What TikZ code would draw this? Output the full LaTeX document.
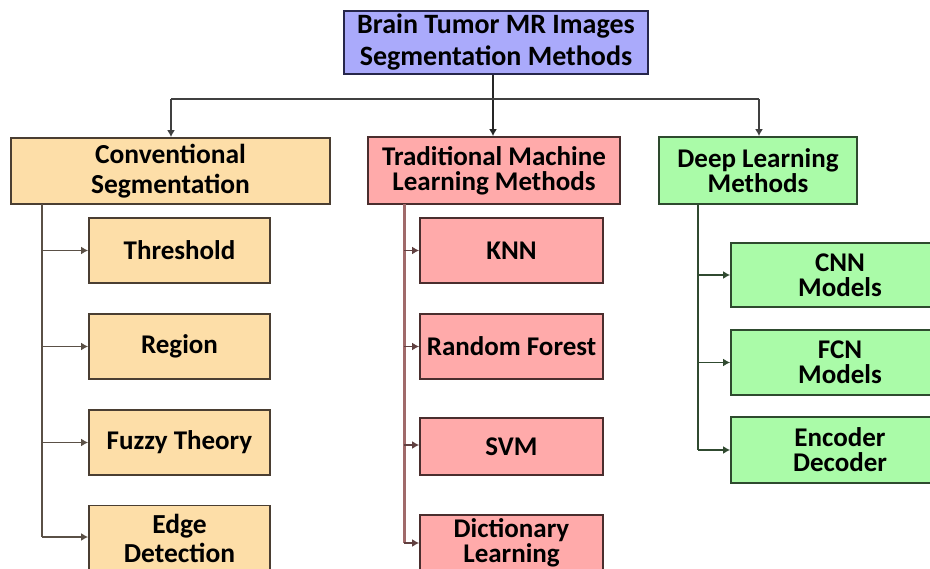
\documentclass[tikz,border=0pt]{standalone}
\usepackage{fontspec}
\setmainfont{Carlito}
\usetikzlibrary{arrows.meta}

\definecolor{rootfill}{HTML}{AAAAFB}
\definecolor{rootline}{HTML}{26264A}
\definecolor{convfill}{HTML}{FDDEA8}
\definecolor{convline}{HTML}{4A3E32}
\definecolor{tmlfill}{HTML}{FFAAAA}
\definecolor{tmlline}{HTML}{4A2E2E}
\definecolor{dlfill}{HTML}{AAFBA8}
\definecolor{dlline}{HTML}{2E4A2E}
\definecolor{convwire}{HTML}{5A5046}
\definecolor{tmlwire}{HTML}{A06A6A}
\definecolor{dlwire}{HTML}{304A30}

\tikzset{
  box/.style={draw, line width=1.8pt, rectangle, align=center, inner sep=0pt,
    font=\bfseries\fontsize{27}{25}\selectfont},
  rootbox/.style={box, fill=rootfill, draw=rootline},
  convbox/.style={box, fill=convfill, draw=convline},
  tmlbox/.style={box, fill=tmlfill, draw=tmlline},
  dlbox/.style={box, fill=dlfill, draw=dlline},
  wire/.style={line width=1.4pt, draw=#1},
  tip/.style={-{Latex[length=7pt,width=8pt]}},
}

\begin{document}
\begin{tikzpicture}[x=1pt,y=-1pt]
\useasboundingbox (0,0) rectangle (930,569);
\begin{scope}
\clip (0,0) rectangle (930,569);

% root and the three families
\node[rootbox, minimum width=304pt, minimum height=63pt,
  font=\bfseries\fontsize{28}{32}\selectfont] (root) at (496,42.5)
  {Brain Tumor MR Images\\Segmentation Methods};
\node[convbox, minimum width=319pt, minimum height=66pt,
  font=\bfseries\fontsize{27.5}{30}\selectfont] (conv) at (170.5,171)
  {Conventional\\Segmentation};
\node[tmlbox, minimum width=252pt, minimum height=67pt] (tml) at (494,170.5)
  {Traditional Machine\\Learning Methods};
\node[dlbox, minimum width=198pt, minimum height=67pt] (dl) at (758,170.5)
  {Deep Learning\\Methods};

% conventional segmentation
\node[convbox, minimum width=181pt, minimum height=65pt] (thr) at (179.5,250.5) {Threshold};
\node[convbox, minimum width=181pt, minimum height=65pt] (reg) at (179.5,346.5) {Region};
\node[convbox, minimum width=181pt, minimum height=65pt] (fuz) at (179.5,442.5) {Fuzzy Theory};
\node[convbox, minimum width=181pt, minimum height=66pt,
  font=\bfseries\fontsize{27.5}{29}\selectfont] (edg) at (179.5,538.5) {Edge\\Detection};

% traditional machine learning
\node[tmlbox, minimum width=183pt, minimum height=65pt] (knn) at (511.5,250.5) {KNN};
\node[tmlbox, minimum width=183pt, minimum height=65pt] (rf) at (511.5,346.5) {Random Forest};
\node[tmlbox, minimum width=183pt, minimum height=57pt] (svm) at (511.5,446.5) {SVM};
\node[tmlbox, minimum width=183pt, minimum height=56pt] (dic) at (511.5,543) {Dictionary\\Learning};

% deep learning
\node[dlbox, minimum width=218pt, minimum height=64pt] (cnn) at (840,275) {CNN\\Models};
\node[dlbox, minimum width=218pt, minimum height=65pt] (fcn) at (840,362.5) {FCN\\Models};
\node[dlbox, minimum width=218pt, minimum height=66pt] (enc) at (840,450) {Encoder\\Decoder};

% trunk from the root
\coordinate (hubL) at (171,99);
\coordinate (hubR) at (759,99);
\draw[wire=black!85, tip] (root.south -| tml.north) ++(-1,0) coordinate (rs) -- (rs |- tml.north);
\draw[wire=black!75] (hubL) -- (hubR);
\draw[wire=black!75, tip] (hubL) -- (hubL |- conv.north);
\draw[wire=black!75, tip] (hubR) -- (hubR |- dl.north);

% conventional branch
\coordinate (cb) at (42,204);
\draw[wire=convwire] (cb) -- (42,537);
\foreach \n/\y in {thr/250.5, reg/346.5, fuz/442.5, edg/537}
  \draw[wire=convwire, tip] (42,\y) -- (\n.west |- 0,\y);

% traditional machine learning branch
\draw[line width=3pt, draw=tmlwire] (404,204) -- (404,543);
\foreach \n/\y in {knn/250.5, rf/346.5, svm/445, dic/543}
  \draw[wire=tmlwire!60!black, tip] (404,\y) -- (\n.west |- 0,\y);

% deep learning branch
\draw[wire=dlwire] (698,204) -- (698,450);
\foreach \n/\y in {cnn/275, fcn/362.5, enc/450}
  \draw[wire=dlwire, tip] (698,\y) -- (\n.west |- 0,\y);
\end{scope}
\end{tikzpicture}
\end{document}
